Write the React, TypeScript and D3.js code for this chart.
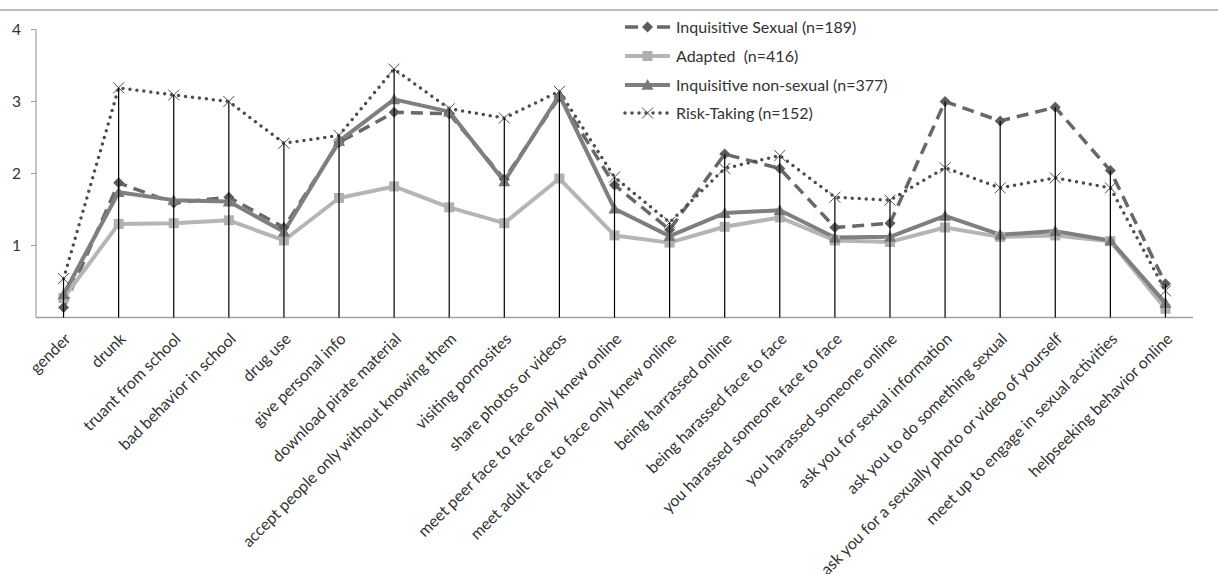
import React from "react";
import * as d3 from "d3";

const categories = [
  "gender",
  "drunk",
  "truant from school",
  "bad behavior in school",
  "drug use",
  "give personal info",
  "download pirate material",
  "accept people only without knowing them",
  "visiting pornosites",
  "share photos or videos",
  "meet peer face to face only knew online",
  "meet adult face to face only knew online",
  "being harrassed online",
  "being harassed face to face",
  "you harassed someone face to face",
  "you harassed someone online",
  "ask you for sexual information",
  "ask you to do something sexual",
  "ask you for a sexually photo or video of yourself",
  "meet up to engage in sexual activities",
  "helpseeking behavior online",
];

const inquisitiveSexual = [0.14, 1.87, 1.59, 1.67, 1.25, 2.43, 2.85, 2.83, 1.92, 3.06, 1.84, 1.22, 2.27, 2.07, 1.25, 1.31, 3.0, 2.73, 2.92, 2.04, 0.47];
const adapted = [0.27, 1.3, 1.31, 1.35, 1.07, 1.66, 1.82, 1.53, 1.31, 1.93, 1.14, 1.04, 1.26, 1.39, 1.07, 1.05, 1.25, 1.12, 1.14, 1.06, 0.12];
const inquisitiveNonSexual = [0.32, 1.74, 1.63, 1.61, 1.19, 2.45, 3.03, 2.86, 1.89, 3.09, 1.51, 1.13, 1.45, 1.49, 1.11, 1.12, 1.41, 1.15, 1.2, 1.07, 0.2];
const riskTaking = [0.54, 3.19, 3.09, 3.0, 2.42, 2.53, 3.45, 2.9, 2.77, 3.14, 1.95, 1.32, 2.07, 2.25, 1.67, 1.63, 2.08, 1.8, 1.94, 1.8, 0.37];

const yTicks = [1, 2, 3, 4];

type Marker = "diamond" | "square" | "triangle" | "x";
const series: { name: string; values: number[]; color: string; width: number; dash: string; cap: string; marker: Marker; markerColor: string }[] = [
  { name: "Inquisitive Sexual (n=189)", values: inquisitiveSexual, color: "#686868", width: 3.5, dash: "12,7", cap: "butt", marker: "diamond", markerColor: "#5c5c5c" },
  { name: "Adapted  (n=416)", values: adapted, color: "#b5b5b5", width: 4, dash: "", cap: "butt", marker: "square", markerColor: "#b0b0b0" },
  { name: "Inquisitive non-sexual (n=377)", values: inquisitiveNonSexual, color: "#7f7f7f", width: 4, dash: "", cap: "butt", marker: "triangle", markerColor: "#7a7a7a" },
  { name: "Risk-Taking (n=152)", values: riskTaking, color: "#4d4d4d", width: 3.5, dash: "0,7", cap: "round", marker: "x", markerColor: "#4d4d4d" },
];

const FONT = "Lato, 'Open Sans', sans-serif";

function MarkerShape({ type, x, y, color }: { type: Marker; x: number; y: number; color: string }) {
  if (type === "diamond") {
    const s = 5.5;
    return <path d={`M${x},${y - s}L${x + s},${y}L${x},${y + s}L${x - s},${y}Z`} fill={color} />;
  }
  if (type === "square") {
    const s = 5;
    return <rect x={x - s} y={y - s} width={2 * s} height={2 * s} fill={color} />;
  }
  if (type === "triangle") {
    const s = 6;
    return <path d={`M${x},${y - s}L${x + s},${y + s * 0.8}L${x - s},${y + s * 0.8}Z`} fill={color} />;
  }
  const s = 5.5;
  return (
    <path d={`M${x - s},${y - s}L${x + s},${y + s}M${x + s},${y - s}L${x - s},${y + s}`} stroke={color} strokeWidth={1} fill="none" />
  );
}

export default function App() {
  const W = 1218;
  const H = 574;
  const x = d3.scaleBand<string>().domain(categories).range([36, 1193]);
  const cx = (c: string) => (x(c) as number) + x.bandwidth() / 2;
  const y = d3.scaleLinear().domain([0, 4]).range([317.5, 29.5]);

  const line = (vals: number[]) =>
    d3
      .line<number>()
      .x((_, i) => cx(categories[i]))
      .y((v) => y(v))(vals) as string;

  const legendX = 625;
  const legendRows = [27, 56, 85, 113];

  return (
    <svg width={W} height={H} style={{ position: "absolute", left: 0, top: 0, background: "#fff" }} fontFamily={FONT}>
      <rect x={0} y={0} width={W} height={H} fill="#fff" />
      <line x1={0} x2={W} y1={10} y2={10} stroke="#a6a6a6" strokeWidth={1.3} />

      {/* axes */}
      <line x1={36} x2={36} y1={y(4)} y2={y(0)} stroke="#a0a0a0" strokeWidth={1.2} />
      <line x1={36} x2={1193} y1={y(0)} y2={y(0)} stroke="#a0a0a0" strokeWidth={1.5} />
      {yTicks.map((t) => (
        <g key={t}>
          <line x1={31} x2={36} y1={y(t)} y2={y(t)} stroke="#a0a0a0" strokeWidth={1.2} />
          <text x={21} y={y(t)} dy="0.35em" textAnchor="end" fontSize={15.5} fill="#333">
            {t}
          </text>
        </g>
      ))}

      {/* series lines */}
      {series.map((s) => (
        <path key={s.name} d={line(s.values)} fill="none" stroke={s.color} strokeWidth={s.width} strokeDasharray={s.dash || undefined} strokeLinecap={s.cap as any} strokeLinejoin="round" />
      ))}
      {series.map((s) =>
        s.values.map((v, i) => <MarkerShape key={s.name + i} type={s.marker} x={cx(categories[i])} y={y(v)} color={s.markerColor} />)
      )}

      {/* drop lines */}
      {categories.map((c, i) => {
        const m = Math.max(...series.map((s) => s.values[i]));
        return <line key={c} x1={cx(c)} x2={cx(c)} y1={y(m)} y2={y(0)} stroke="#000" strokeWidth={1.2} />;
      })}

      {/* category labels */}
      {categories.map((c) => (
        <text key={c} transform={`translate(${cx(c) + 8},${340}) rotate(-45)`} textAnchor="end" fontSize={16} fill="#333">
          {c}
        </text>
      ))}

      {/* legend */}
      {series.map((s, i) => {
        const ly = legendRows[i];
        return (
          <g key={s.name}>
            <line x1={legendX} x2={legendX + 45} y1={ly} y2={ly} stroke={s.color} strokeWidth={s.width} strokeDasharray={s.dash ? (s.marker === "x" ? "0,7" : "13,19") : undefined} strokeLinecap={s.cap as any} />
            <MarkerShape type={s.marker} x={legendX + 22.5} y={ly} color={s.markerColor} />
            <text x={legendX + 51} y={ly} dy="0.35em" fontSize={16} fill="#333" style={{ whiteSpace: "pre" }}>
              {s.name}
            </text>
          </g>
        );
      })}
    </svg>
  );
}
